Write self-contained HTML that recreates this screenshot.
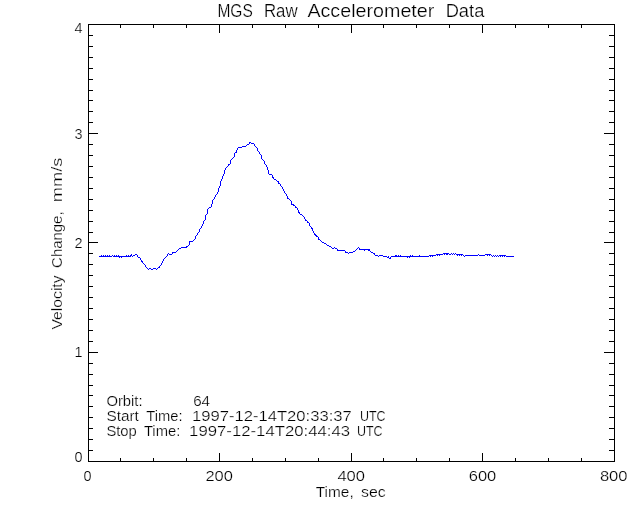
<!DOCTYPE html>
<html lang="en"><head><meta charset="utf-8"><title>MGS Raw Accelerometer Data</title>
<style>
html,body{margin:0;padding:0;background:#fff;}
body{width:640px;height:512px;overflow:hidden;}
svg{display:block;}
text{font-family:"Liberation Sans",Arial,sans-serif;fill:#000;stroke:#fff;stroke-width:0.22px;}
</style></head><body>
<svg width="640" height="512" viewBox="0 0 640 512">
<rect x="0" y="0" width="640" height="512" fill="#ffffff"/>
<g fill="#000" shape-rendering="crispEdges">
<rect x="88" y="24" width="527" height="1"/>
<rect x="88" y="461" width="527" height="1"/>
<rect x="88" y="24" width="1" height="438"/>
<rect x="614" y="24" width="1" height="438"/>
<rect x="120" y="458" width="1" height="4"/>
<rect x="120" y="24" width="1" height="4"/>
<rect x="153" y="458" width="1" height="4"/>
<rect x="153" y="24" width="1" height="4"/>
<rect x="186" y="458" width="1" height="4"/>
<rect x="186" y="24" width="1" height="4"/>
<rect x="219" y="453" width="1" height="9"/>
<rect x="219" y="24" width="1" height="9"/>
<rect x="252" y="458" width="1" height="4"/>
<rect x="252" y="24" width="1" height="4"/>
<rect x="285" y="458" width="1" height="4"/>
<rect x="285" y="24" width="1" height="4"/>
<rect x="318" y="458" width="1" height="4"/>
<rect x="318" y="24" width="1" height="4"/>
<rect x="351" y="453" width="1" height="9"/>
<rect x="351" y="24" width="1" height="9"/>
<rect x="383" y="458" width="1" height="4"/>
<rect x="383" y="24" width="1" height="4"/>
<rect x="416" y="458" width="1" height="4"/>
<rect x="416" y="24" width="1" height="4"/>
<rect x="449" y="458" width="1" height="4"/>
<rect x="449" y="24" width="1" height="4"/>
<rect x="482" y="453" width="1" height="9"/>
<rect x="482" y="24" width="1" height="9"/>
<rect x="515" y="458" width="1" height="4"/>
<rect x="515" y="24" width="1" height="4"/>
<rect x="548" y="458" width="1" height="4"/>
<rect x="548" y="24" width="1" height="4"/>
<rect x="581" y="458" width="1" height="4"/>
<rect x="581" y="24" width="1" height="4"/>
<rect x="88" y="450" width="5" height="1"/>
<rect x="609" y="450" width="6" height="1"/>
<rect x="88" y="439" width="5" height="1"/>
<rect x="609" y="439" width="6" height="1"/>
<rect x="88" y="428" width="5" height="1"/>
<rect x="609" y="428" width="6" height="1"/>
<rect x="88" y="417" width="5" height="1"/>
<rect x="609" y="417" width="6" height="1"/>
<rect x="88" y="406" width="5" height="1"/>
<rect x="609" y="406" width="6" height="1"/>
<rect x="88" y="395" width="5" height="1"/>
<rect x="609" y="395" width="6" height="1"/>
<rect x="88" y="385" width="5" height="1"/>
<rect x="609" y="385" width="6" height="1"/>
<rect x="88" y="374" width="5" height="1"/>
<rect x="609" y="374" width="6" height="1"/>
<rect x="88" y="363" width="5" height="1"/>
<rect x="609" y="363" width="6" height="1"/>
<rect x="88" y="352" width="10" height="1"/>
<rect x="604" y="352" width="11" height="1"/>
<rect x="88" y="341" width="5" height="1"/>
<rect x="609" y="341" width="6" height="1"/>
<rect x="88" y="330" width="5" height="1"/>
<rect x="609" y="330" width="6" height="1"/>
<rect x="88" y="319" width="5" height="1"/>
<rect x="609" y="319" width="6" height="1"/>
<rect x="88" y="308" width="5" height="1"/>
<rect x="609" y="308" width="6" height="1"/>
<rect x="88" y="297" width="5" height="1"/>
<rect x="609" y="297" width="6" height="1"/>
<rect x="88" y="286" width="5" height="1"/>
<rect x="609" y="286" width="6" height="1"/>
<rect x="88" y="275" width="5" height="1"/>
<rect x="609" y="275" width="6" height="1"/>
<rect x="88" y="264" width="5" height="1"/>
<rect x="609" y="264" width="6" height="1"/>
<rect x="88" y="253" width="5" height="1"/>
<rect x="609" y="253" width="6" height="1"/>
<rect x="88" y="242" width="10" height="1"/>
<rect x="604" y="242" width="11" height="1"/>
<rect x="88" y="232" width="5" height="1"/>
<rect x="609" y="232" width="6" height="1"/>
<rect x="88" y="221" width="5" height="1"/>
<rect x="609" y="221" width="6" height="1"/>
<rect x="88" y="210" width="5" height="1"/>
<rect x="609" y="210" width="6" height="1"/>
<rect x="88" y="199" width="5" height="1"/>
<rect x="609" y="199" width="6" height="1"/>
<rect x="88" y="188" width="5" height="1"/>
<rect x="609" y="188" width="6" height="1"/>
<rect x="88" y="177" width="5" height="1"/>
<rect x="609" y="177" width="6" height="1"/>
<rect x="88" y="166" width="5" height="1"/>
<rect x="609" y="166" width="6" height="1"/>
<rect x="88" y="155" width="5" height="1"/>
<rect x="609" y="155" width="6" height="1"/>
<rect x="88" y="144" width="5" height="1"/>
<rect x="609" y="144" width="6" height="1"/>
<rect x="88" y="133" width="10" height="1"/>
<rect x="604" y="133" width="11" height="1"/>
<rect x="88" y="122" width="5" height="1"/>
<rect x="609" y="122" width="6" height="1"/>
<rect x="88" y="111" width="5" height="1"/>
<rect x="609" y="111" width="6" height="1"/>
<rect x="88" y="100" width="5" height="1"/>
<rect x="609" y="100" width="6" height="1"/>
<rect x="88" y="90" width="5" height="1"/>
<rect x="609" y="90" width="6" height="1"/>
<rect x="88" y="79" width="5" height="1"/>
<rect x="609" y="79" width="6" height="1"/>
<rect x="88" y="68" width="5" height="1"/>
<rect x="609" y="68" width="6" height="1"/>
<rect x="88" y="57" width="5" height="1"/>
<rect x="609" y="57" width="6" height="1"/>
<rect x="88" y="46" width="5" height="1"/>
<rect x="609" y="46" width="6" height="1"/>
<rect x="88" y="35" width="5" height="1"/>
<rect x="609" y="35" width="6" height="1"/>
</g>
<path d="M99 256h1v1h-1zM100 256h1v1h-1zM101 255h1v2h-1zM102 256h1v1h-1zM103 255h1v2h-1zM104 256h1v1h-1zM105 255h1v2h-1zM106 256h1v1h-1zM107 255h1v2h-1zM108 256h1v1h-1zM109 255h1v2h-1zM110 256h1v1h-1zM111 256h1v1h-1zM112 255h1v1h-1zM113 256h1v1h-1zM114 255h1v2h-1zM115 256h1v1h-1zM116 255h1v2h-1zM117 256h1v1h-1zM118 255h1v2h-1zM119 256h1v2h-1zM120 256h1v1h-1zM121 256h1v2h-1zM122 256h1v1h-1zM123 256h1v1h-1zM124 256h1v1h-1zM125 256h1v1h-1zM126 255h1v2h-1zM127 256h1v1h-1zM128 255h1v2h-1zM129 256h1v1h-1zM130 255h1v2h-1zM131 254h1v2h-1zM132 256h1v1h-1zM133 255h1v1h-1zM134 255h1v1h-1zM135 254h1v1h-1zM136 254h1v1h-1zM137 255h1v2h-1zM138 257h1v1h-1zM139 257h1v1h-1zM140 258h1v2h-1zM141 260h1v2h-1zM142 261h1v2h-1zM143 263h1v1h-1zM144 264h1v1h-1zM145 265h1v2h-1zM146 267h1v1h-1zM147 268h1v1h-1zM148 269h1v1h-1zM149 268h1v1h-1zM150 268h1v1h-1zM151 269h1v1h-1zM152 269h1v1h-1zM153 268h1v1h-1zM154 268h1v1h-1zM155 268h1v1h-1zM156 269h1v1h-1zM157 268h1v1h-1zM158 267h1v1h-1zM159 266h1v2h-1zM160 265h1v1h-1zM161 263h1v2h-1zM162 261h1v2h-1zM163 259h1v2h-1zM164 258h1v1h-1zM165 257h1v1h-1zM166 256h1v1h-1zM167 254h1v2h-1zM168 253h1v1h-1zM169 254h1v1h-1zM170 254h1v1h-1zM171 254h1v1h-1zM172 252h1v2h-1zM173 252h1v1h-1zM174 252h1v1h-1zM175 252h1v1h-1zM176 251h1v1h-1zM177 250h1v1h-1zM178 249h1v1h-1zM179 248h1v1h-1zM180 248h1v1h-1zM181 247h1v1h-1zM182 247h1v1h-1zM183 247h1v1h-1zM184 247h1v1h-1zM185 247h1v1h-1zM186 246h1v2h-1zM187 246h1v1h-1zM188 245h1v1h-1zM189 241h1v4h-1zM190 241h1v1h-1zM191 241h1v1h-1zM192 241h1v1h-1zM193 240h1v1h-1zM194 239h1v1h-1zM195 236h1v3h-1zM196 235h1v1h-1zM197 233h1v2h-1zM198 232h1v1h-1zM199 229h1v3h-1zM200 228h1v1h-1zM201 226h1v2h-1zM202 224h1v2h-1zM203 221h1v3h-1zM204 220h1v1h-1zM205 215h1v5h-1zM206 214h1v1h-1zM207 209h1v5h-1zM208 208h1v1h-1zM209 207h1v1h-1zM210 207h1v1h-1zM211 204h1v3h-1zM212 200h1v4h-1zM213 199h1v1h-1zM214 197h1v2h-1zM215 195h1v2h-1zM216 194h1v1h-1zM217 192h1v2h-1zM218 188h1v4h-1zM219 186h1v2h-1zM220 181h1v5h-1zM221 179h1v2h-1zM222 176h1v3h-1zM223 174h1v2h-1zM224 170h1v4h-1zM225 168h1v2h-1zM226 167h1v1h-1zM227 166h1v1h-1zM228 164h1v2h-1zM229 164h1v1h-1zM230 160h1v4h-1zM231 159h1v1h-1zM232 158h1v1h-1zM233 157h1v1h-1zM234 153h1v4h-1zM235 152h1v1h-1zM236 150h1v3h-1zM237 148h1v2h-1zM238 147h1v1h-1zM239 147h1v1h-1zM240 147h1v1h-1zM241 147h1v1h-1zM242 146h1v1h-1zM243 146h1v1h-1zM244 146h1v1h-1zM245 146h1v1h-1zM246 145h1v1h-1zM247 144h1v1h-1zM248 144h1v1h-1zM249 142h1v2h-1zM250 142h1v1h-1zM251 143h1v1h-1zM252 143h1v1h-1zM253 143h1v1h-1zM254 144h1v2h-1zM255 146h1v1h-1zM256 147h1v1h-1zM257 148h1v3h-1zM258 151h1v1h-1zM259 152h1v2h-1zM260 154h1v1h-1zM261 155h1v4h-1zM262 159h1v1h-1zM263 160h1v1h-1zM264 161h1v3h-1zM265 164h1v1h-1zM266 165h1v2h-1zM267 167h1v3h-1zM268 170h1v4h-1zM269 174h1v1h-1zM270 174h1v1h-1zM271 174h1v1h-1zM272 175h1v3h-1zM273 177h1v2h-1zM274 179h1v1h-1zM275 179h1v1h-1zM276 180h1v1h-1zM277 181h1v1h-1zM278 181h1v3h-1zM279 183h1v1h-1zM280 184h1v2h-1zM281 186h1v1h-1zM282 187h1v2h-1zM283 189h1v2h-1zM284 191h1v2h-1zM285 193h1v1h-1zM286 194h1v2h-1zM287 196h1v3h-1zM288 198h1v1h-1zM289 199h1v1h-1zM290 200h1v1h-1zM291 201h1v4h-1zM292 204h1v1h-1zM293 204h1v2h-1zM294 205h1v1h-1zM295 206h1v2h-1zM296 207h1v1h-1zM297 208h1v2h-1zM298 210h1v3h-1zM299 212h1v2h-1zM300 214h1v1h-1zM301 214h1v1h-1zM302 215h1v1h-1zM303 216h1v1h-1zM304 217h1v2h-1zM305 219h1v2h-1zM306 220h1v1h-1zM307 221h1v2h-1zM308 222h1v1h-1zM309 223h1v3h-1zM310 226h1v1h-1zM311 227h1v2h-1zM312 228h1v3h-1zM313 231h1v2h-1zM314 233h1v2h-1zM315 234h1v2h-1zM316 235h1v2h-1zM317 236h1v1h-1zM318 237h1v3h-1zM319 239h1v1h-1zM320 240h1v1h-1zM321 241h1v1h-1zM322 242h1v1h-1zM323 242h1v1h-1zM324 243h1v1h-1zM325 243h1v1h-1zM326 244h1v1h-1zM327 245h1v1h-1zM328 245h1v1h-1zM329 246h1v1h-1zM330 246h1v1h-1zM331 247h1v1h-1zM332 248h1v1h-1zM333 248h1v1h-1zM334 247h1v1h-1zM335 248h1v1h-1zM336 248h1v1h-1zM337 249h1v2h-1zM338 250h1v1h-1zM339 250h1v1h-1zM340 250h1v1h-1zM341 250h1v1h-1zM342 250h1v1h-1zM343 250h1v1h-1zM344 250h1v1h-1zM345 251h1v2h-1zM346 252h1v1h-1zM347 252h1v1h-1zM348 253h1v1h-1zM349 252h1v1h-1zM350 252h1v1h-1zM351 252h1v1h-1zM352 252h1v1h-1zM353 251h1v1h-1zM354 251h1v1h-1zM355 250h1v1h-1zM356 249h1v1h-1zM357 248h1v1h-1zM358 247h1v1h-1zM359 248h1v2h-1zM360 249h1v1h-1zM361 249h1v1h-1zM362 249h1v1h-1zM363 249h1v1h-1zM364 249h1v2h-1zM365 249h1v1h-1zM366 249h1v1h-1zM367 249h1v1h-1zM368 249h1v2h-1zM369 249h1v2h-1zM370 251h1v1h-1zM371 252h1v1h-1zM372 252h1v1h-1zM373 253h1v1h-1zM374 253h1v2h-1zM375 255h1v1h-1zM376 255h1v1h-1zM377 255h1v1h-1zM378 256h1v1h-1zM379 255h1v1h-1zM380 255h1v1h-1zM381 255h1v1h-1zM382 255h1v1h-1zM383 256h1v1h-1zM384 256h1v1h-1zM385 256h1v1h-1zM386 256h1v1h-1zM387 257h1v1h-1zM388 256h1v2h-1zM389 258h1v1h-1zM390 257h1v2h-1zM391 256h1v1h-1zM392 256h1v1h-1zM393 256h1v1h-1zM394 256h1v1h-1zM395 255h1v2h-1zM396 255h1v2h-1zM397 256h1v1h-1zM398 255h1v2h-1zM399 256h1v1h-1zM400 255h1v2h-1zM401 256h1v1h-1zM402 256h1v1h-1zM403 256h1v1h-1zM404 256h1v1h-1zM405 256h1v1h-1zM406 256h1v1h-1zM407 256h1v2h-1zM408 256h1v1h-1zM409 256h1v2h-1zM410 255h1v2h-1zM411 256h1v1h-1zM412 255h1v2h-1zM413 256h1v1h-1zM414 256h1v1h-1zM415 256h1v1h-1zM416 256h1v1h-1zM417 256h1v1h-1zM418 256h1v1h-1zM419 255h1v2h-1zM420 256h1v1h-1zM421 256h1v1h-1zM422 256h1v1h-1zM423 256h1v1h-1zM424 256h1v1h-1zM425 256h1v1h-1zM426 256h1v1h-1zM427 256h1v1h-1zM428 256h1v1h-1zM429 255h1v1h-1zM430 255h1v2h-1zM431 255h1v1h-1zM432 255h1v2h-1zM433 255h1v1h-1zM434 255h1v1h-1zM435 255h1v1h-1zM436 254h1v1h-1zM437 254h1v2h-1zM438 254h1v1h-1zM439 254h1v2h-1zM440 254h1v1h-1zM441 254h1v1h-1zM442 254h1v1h-1zM443 253h1v1h-1zM444 253h1v2h-1zM445 253h1v1h-1zM446 253h1v2h-1zM447 253h1v2h-1zM448 253h1v1h-1zM449 254h1v1h-1zM450 254h1v1h-1zM451 253h1v1h-1zM452 254h1v1h-1zM453 253h1v1h-1zM454 254h1v1h-1zM455 253h1v1h-1zM456 254h1v1h-1zM457 254h1v2h-1zM458 254h1v1h-1zM459 254h1v2h-1zM460 254h1v1h-1zM461 254h1v2h-1zM462 254h1v1h-1zM463 255h1v1h-1zM464 256h1v1h-1zM465 255h1v1h-1zM466 255h1v1h-1zM467 255h1v1h-1zM468 255h1v1h-1zM469 255h1v1h-1zM470 255h1v1h-1zM471 255h1v1h-1zM472 255h1v1h-1zM473 255h1v1h-1zM474 255h1v1h-1zM475 255h1v1h-1zM476 255h1v1h-1zM477 255h1v1h-1zM478 254h1v1h-1zM479 255h1v1h-1zM480 255h1v1h-1zM481 255h1v1h-1zM482 255h1v1h-1zM483 255h1v1h-1zM484 255h1v1h-1zM485 254h1v1h-1zM486 254h1v1h-1zM487 254h1v2h-1zM488 254h1v1h-1zM489 254h1v2h-1zM490 254h1v1h-1zM491 255h1v1h-1zM492 256h1v1h-1zM493 255h1v1h-1zM494 256h1v1h-1zM495 255h1v1h-1zM496 256h1v1h-1zM497 255h1v1h-1zM498 256h1v1h-1zM499 255h1v1h-1zM500 255h1v2h-1zM501 255h1v1h-1zM502 255h1v2h-1zM503 255h1v1h-1zM504 255h1v2h-1zM505 255h1v1h-1zM506 256h1v1h-1zM507 256h1v1h-1zM508 256h1v1h-1zM509 256h1v1h-1zM510 256h1v1h-1zM511 256h1v1h-1zM512 256h1v1h-1zM513 256h1v1h-1z" fill="#0000ff" shape-rendering="crispEdges"/>
<text font-size="13.4" transform="translate(87.4,481) scale(1.08,1.12)" text-anchor="middle">0</text>
<text font-size="13.4" transform="translate(0,481) scale(1,1.12)"><tspan x="205.40" textLength="27.50" lengthAdjust="spacingAndGlyphs">200</tspan></text>
<text font-size="13.4" transform="translate(0,481) scale(1,1.12)"><tspan x="337.40" textLength="27.60" lengthAdjust="spacingAndGlyphs">400</tspan></text>
<text font-size="13.4" transform="translate(0,481) scale(1,1.12)"><tspan x="468.70" textLength="27.60" lengthAdjust="spacingAndGlyphs">600</tspan></text>
<text font-size="13.4" transform="translate(0,481) scale(1,1.12)"><tspan x="599.90" textLength="27.70" lengthAdjust="spacingAndGlyphs">800</tspan></text>
<text font-size="13.4" transform="translate(82.6,461.5) scale(1.08,1.12)" text-anchor="end">0</text>
<text font-size="13.4" transform="translate(82.6,357) scale(1.08,1.12)" text-anchor="end">1</text>
<text font-size="13.4" transform="translate(82.6,247.7) scale(1.08,1.12)" text-anchor="end">2</text>
<text font-size="13.4" transform="translate(82.6,139) scale(1.08,1.12)" text-anchor="end">3</text>
<text font-size="13.4" transform="translate(82.6,33.3) scale(1.08,1.12)" text-anchor="end">4</text>
<text font-size="13.4" transform="translate(0,497) scale(1,1.12)"><tspan x="315.80" textLength="37.90" lengthAdjust="spacingAndGlyphs">Time,</tspan> <tspan x="361.10" textLength="24.70" lengthAdjust="spacingAndGlyphs">sec</tspan></text>
<text font-size="13.4" transform="translate(62,329) rotate(-90) translate(0,0) scale(1,1.12)"><tspan x="-0.60" textLength="54.20" lengthAdjust="spacingAndGlyphs">Velocity</tspan> <tspan x="61.10" textLength="56.50" lengthAdjust="spacingAndGlyphs">Change,</tspan> <tspan x="126.70" textLength="44.70" lengthAdjust="spacingAndGlyphs">mm/s</tspan></text>
<text font-size="16.2" transform="translate(0,17) scale(1,1.12)"><tspan x="217.40" textLength="35.40" lengthAdjust="spacingAndGlyphs">MGS</tspan> <tspan x="263.90" textLength="33.70" lengthAdjust="spacingAndGlyphs">Raw</tspan> <tspan x="307.40" textLength="126.95" lengthAdjust="spacingAndGlyphs">Accelerometer</tspan> <tspan x="445.65" textLength="38.70" lengthAdjust="spacingAndGlyphs">Data</tspan></text>
<text font-size="13" transform="translate(0,405.5) scale(1,1.12)"><tspan x="106.40" textLength="36.20" lengthAdjust="spacingAndGlyphs">Orbit:</tspan> <tspan x="193.15" textLength="16.95" lengthAdjust="spacingAndGlyphs">64</tspan></text>
<text font-size="13" transform="translate(0,420.5) scale(1,1.12)"><tspan x="106.40" textLength="32.50" lengthAdjust="spacingAndGlyphs">Start</tspan> <tspan x="146.30" textLength="36.30" lengthAdjust="spacingAndGlyphs">Time:</tspan> <tspan x="191.90" textLength="159.95" lengthAdjust="spacingAndGlyphs">1997-12-14T20:33:37</tspan> <tspan x="359.90" textLength="25.70" lengthAdjust="spacingAndGlyphs">UTC</tspan></text>
<text font-size="13" transform="translate(0,435.5) scale(1,1.12)"><tspan x="106.40" textLength="30.45" lengthAdjust="spacingAndGlyphs">Stop</tspan> <tspan x="143.90" textLength="36.40" lengthAdjust="spacingAndGlyphs">Time:</tspan> <tspan x="189.10" textLength="161.00" lengthAdjust="spacingAndGlyphs">1997-12-14T20:44:43</tspan> <tspan x="356.90" textLength="25.70" lengthAdjust="spacingAndGlyphs">UTC</tspan></text>
</svg></body></html>
